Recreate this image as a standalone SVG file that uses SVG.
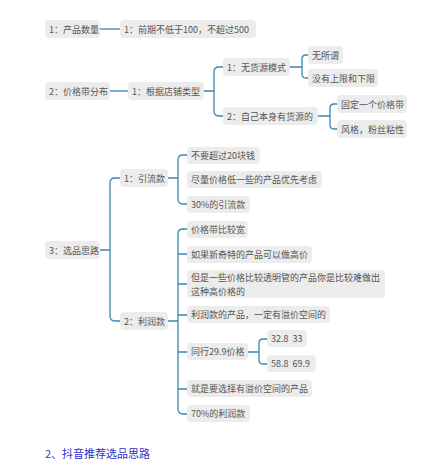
<svg xmlns="http://www.w3.org/2000/svg" width="435" height="472" viewBox="0 0 435 472">
<style>
.b{fill:#ececec}
.t{font-family:"Noto Sans CJK SC","Noto Sans",sans-serif;font-size:9px;fill:#555;dominant-baseline:central}
.c{fill:none;stroke:#3b87b0;stroke-width:1.3}
.h{font-family:"Noto Sans CJK SC","Noto Sans",sans-serif;font-size:11px;fill:#2f2fc8}
</style>
<rect width="435" height="472" fill="#fff"/>
<g id="connectors">
<path class="c" d="M100,29H120"/>
<path class="c" d="M110,91H128"/>
<path class="c" d="M204,91H214M223,67H219Q214,67 214,72V111Q214,116 219,116H223"/>
<path class="c" d="M290,67H302M308,55H306Q302,55 302,59V74Q302,78 306,78H308"/>
<path class="c" d="M318,116H330M337,104H334Q330,104 330,108V125Q330,129 334,129H337"/>
<path class="c" d="M100,250H110M120,178H115Q110,178 110,183V316Q110,321 115,321H120"/>
<path class="c" d="M168,178H178M187,155H183Q178,155 178,160V199Q178,204 183,204H187"/>
<path class="c" d="M168,321H178M187,229H183Q178,229 178,234V409Q178,414 183,414H187M178,254H187M178,284H187M178,315H187M178,352H187M178,389H187"/>
<path class="c" d="M248,352H259M267,339H263Q259,339 259,343V360Q259,364 263,364H267"/>
</g>
<g id="n1"><rect class="b" x="45" y="20" width="55" height="18" rx="4"/><text class="t" x="49" y="29">1：产品数量</text></g>
<g id="n2"><rect class="b" x="120" y="20" width="136" height="18" rx="4"/><text class="t" x="124" y="29">1：前期不低于100，不超过500</text></g>
<g id="n3"><rect class="b" x="45" y="82" width="65" height="18" rx="4"/><text class="t" x="49" y="91">2：价格带分布</text></g>
<g id="n4"><rect class="b" x="128" y="82" width="76" height="18" rx="4"/><text class="t" x="132" y="91">1：根据店铺类型</text></g>
<g id="n5"><rect class="b" x="223" y="58" width="67" height="18" rx="4"/><text class="t" x="227" y="67">1：无货源模式</text></g>
<g id="n6"><rect class="b" x="223" y="107" width="95" height="18" rx="4"/><text class="t" x="227" y="116">2：自己本身有货源的</text></g>
<g id="n7"><rect class="b" x="308" y="46" width="35" height="18" rx="4"/><text class="t" x="312" y="55">无所谓</text></g>
<g id="n8"><rect class="b" x="308" y="69" width="70" height="18" rx="4"/><text class="t" x="312" y="78">没有上限和下限</text></g>
<g id="n9"><rect class="b" x="337" y="95" width="70" height="18" rx="4"/><text class="t" x="341" y="104">固定一个价格带</text></g>
<g id="n10"><rect class="b" x="337" y="120" width="70" height="18" rx="4"/><text class="t" x="341" y="129">风格，粉丝粘性</text></g>
<g id="n11"><rect class="b" x="45" y="241" width="55" height="18" rx="4"/><text class="t" x="49" y="250">3：选品思路</text></g>
<g id="n12"><rect class="b" x="120" y="169" width="48" height="18" rx="4"/><text class="t" x="124" y="178">1：引流款</text></g>
<g id="n13"><rect class="b" x="120" y="312" width="48" height="18" rx="4"/><text class="t" x="124" y="321">2：利润款</text></g>
<g id="n14"><rect class="b" x="187" y="147" width="73" height="17" rx="4"/><text class="t" x="191" y="155.5">不要超过20块钱</text></g>
<g id="n15"><rect class="b" x="187" y="171" width="135" height="17" rx="4"/><text class="t" x="191" y="179.5">尽量价格低一些的产品优先考虑</text></g>
<g id="n16"><rect class="b" x="187" y="196" width="63" height="17" rx="4"/><text class="t" x="191" y="204.5">30%的引流款</text></g>
<g id="n17"><rect class="b" x="187" y="221" width="61" height="17" rx="4"/><text class="t" x="191" y="229.5">价格带比较宽</text></g>
<g id="n18"><rect class="b" x="187" y="246" width="125" height="17" rx="4"/><text class="t" x="191" y="254.5">如果新奇特的产品可以做高价</text></g>
<g id="n19"><rect class="b" x="187" y="270" width="198" height="28" rx="4"/><text class="t" x="191" y="277.5">但是一些价格比较透明管的产品你是比较难做出</text><text class="t" x="191" y="291">这种高价格的</text></g>
<g id="n20"><rect class="b" x="187" y="306" width="143" height="17" rx="4"/><text class="t" x="191" y="314.5">利润款的产品，一定有溢价空间的</text></g>
<g id="n21"><rect class="b" x="187" y="343" width="61" height="17" rx="4"/><text class="t" x="191" y="351.5">同行29.9价格</text></g>
<g id="n22"><rect class="b" x="267" y="330" width="40" height="17" rx="4"/><text class="t" x="271" y="338.5" xml:space="preserve">32.8  33</text></g>
<g id="n23"><rect class="b" x="267" y="355" width="49" height="17" rx="4"/><text class="t" x="271" y="363.5" xml:space="preserve">58.8  69.9</text></g>
<g id="n24"><rect class="b" x="187" y="380" width="125" height="17" rx="4"/><text class="t" x="191" y="388.5">就是要选择有溢价空间的产品</text></g>
<g id="n25"><rect class="b" x="187" y="405" width="63" height="17" rx="4"/><text class="t" x="191" y="413.5">70%的利润款</text></g>
<text class="h" x="45" y="458">2、抖音推荐选品思路</text>
</svg>
